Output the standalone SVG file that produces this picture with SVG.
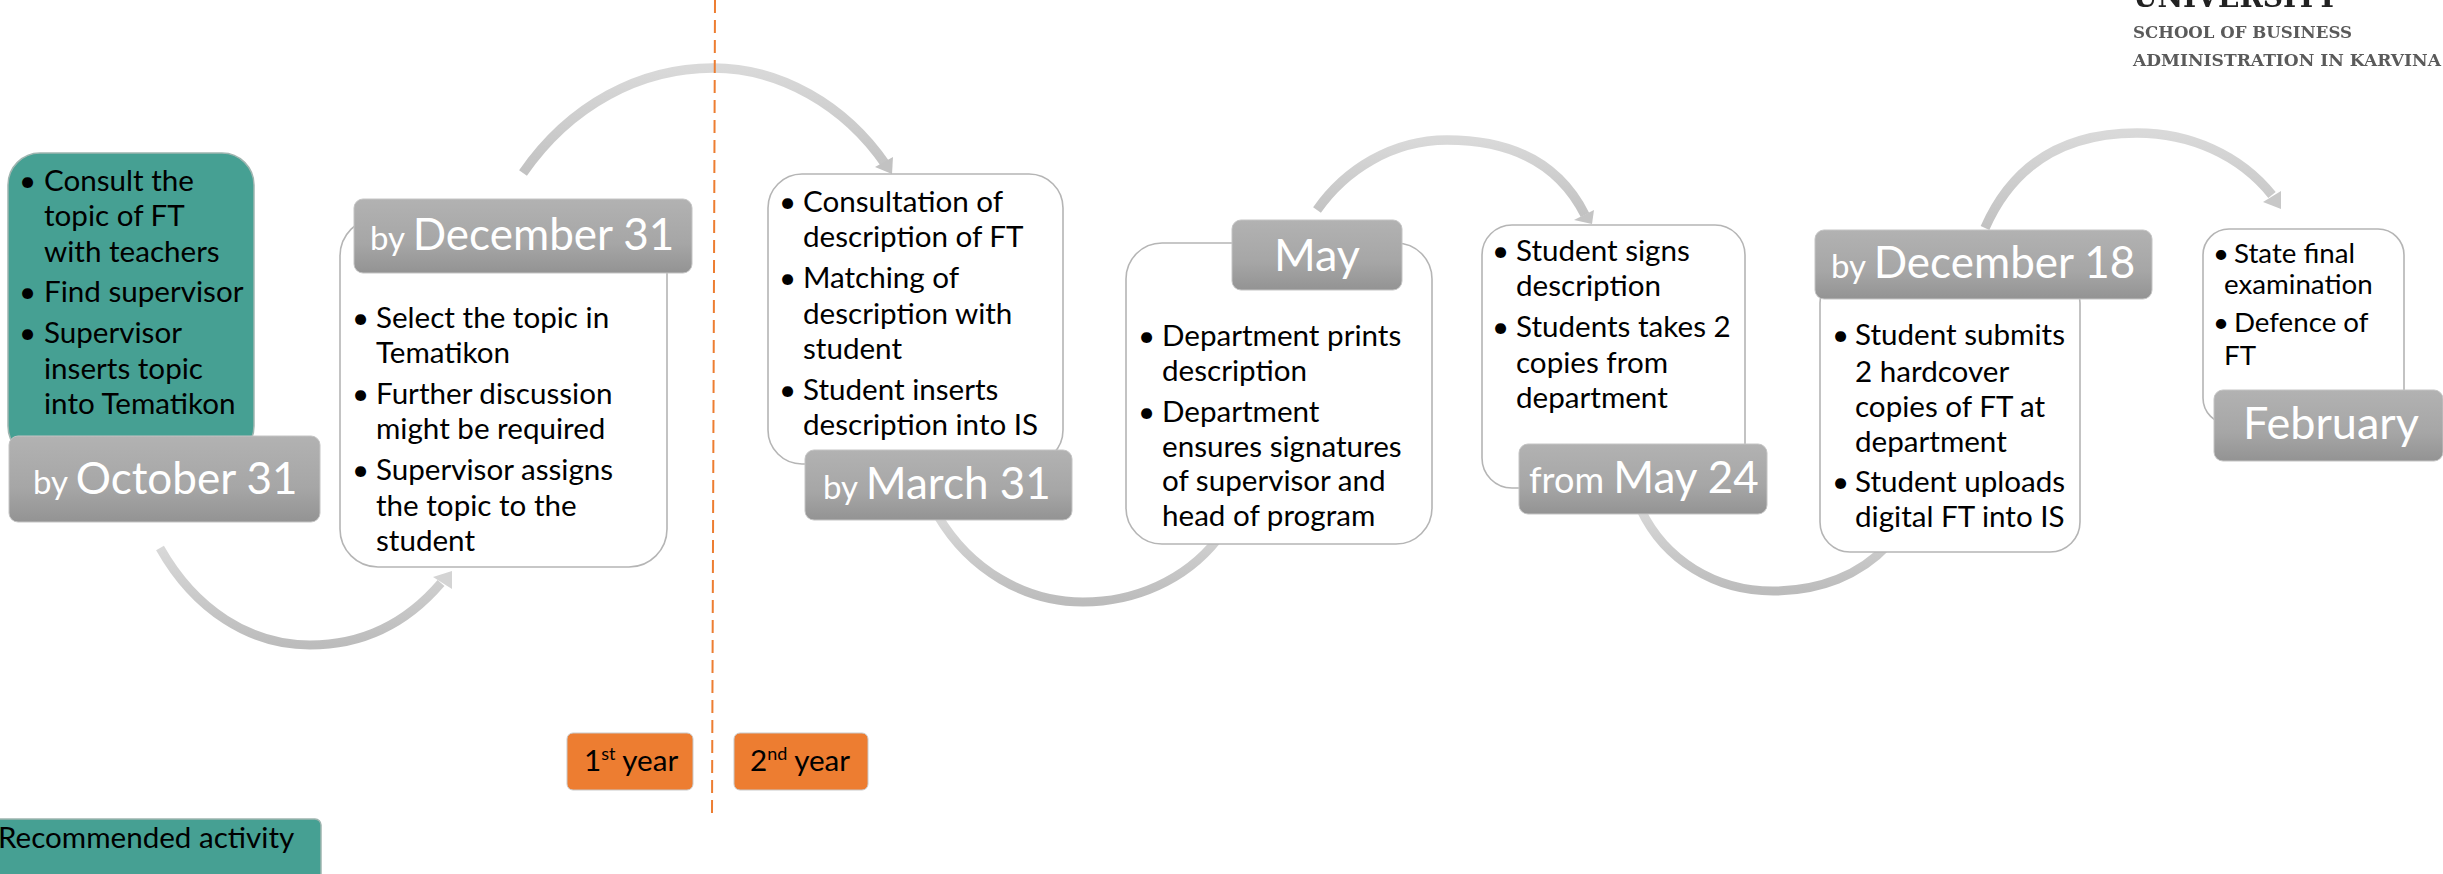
<svg xmlns="http://www.w3.org/2000/svg" width="2443" height="874" viewBox="0 0 2443 874">
<style>
text{font-family:Lato,"Open Sans","Liberation Sans",sans-serif}
.b{font-size:29.6px;fill:#000}
.s{font-size:27.7px;fill:#000}
.l{font-size:44px;fill:#fff}
.sm{font-size:33px}
.fr{font-size:36px}
.box{fill:#fff;stroke:#b5b5b5;stroke-width:1.6}
.lab{fill:url(#g);stroke:#c4c4c4;stroke-width:1}
.low{fill:none;stroke:url(#a);stroke-width:9}
.up{fill:none;stroke:url(#u);stroke-width:9.5}
.org{fill:#ed7d31;stroke:#c9c9c9;stroke-width:1}
.teal{fill:#46a093;stroke:#9fb5b0;stroke-width:1.5}
.logo{font-family:"DejaVu Serif",serif;font-weight:bold;fill:#5a5a5a;font-size:17px}
</style>
<defs>
<linearGradient id="g" x1="0" y1="0" x2="0" y2="1"><stop offset="0" stop-color="#b2b2b2"/><stop offset=".6" stop-color="#a6a6a6"/><stop offset="1" stop-color="#939393"/></linearGradient>
<linearGradient id="a" x1="0" y1="0" x2="0" y2="1"><stop offset="0" stop-color="#d8d8d8"/><stop offset="1" stop-color="#bcbcbc"/></linearGradient>
<linearGradient id="u" x1="0" y1="0" x2="0" y2="1"><stop offset="0" stop-color="#d9d9d9"/><stop offset="1" stop-color="#c2c2c2"/></linearGradient>
<filter id="bl"><feGaussianBlur stdDeviation="0.7"/></filter>
</defs>
<g id="connectors">
<path class="low" d="M160 548C195 610 250 645 310 645C360 645 405 625 441 583"/><path d="M433 577L452 571L452 589Z" fill="#d4d4d4"/>
<path class="up" d="M523 173C570 105 640 68 713 68C780 68 845 105 886 165"/><path d="M893 157L892 174L875 167Z" fill="#c2c2c2"/>
<path class="low" d="M938 516C970 570 1025 602 1083 602C1135 602 1185 580 1217 540"/>
<path class="up" d="M1317 210C1345 170 1392 140 1447 140C1515 140 1560 165 1585 215"/><path d="M1594 210L1592 224L1574 220Z" fill="#c4c4c4"/>
<path class="low" d="M1641 510C1665 560 1715 591 1773 591C1820 591 1860 575 1888 545"/>
<path class="up" d="M1985 228C2015 160 2070 133 2137 133C2190 133 2240 155 2272 195"/><path d="M2281 191L2281 209L2263 202Z" fill="#c8c8c8"/>
</g>
<path id="divider" d="M715 0L712 815" fill="none" stroke="#ed7d31" stroke-width="2" stroke-dasharray="13 7"/>
<g id="oct-activity"><rect class="teal" x="8" y="153" width="246" height="305" rx="32"/>
<text class="b" x="19" y="191">•</text><text class="b" x="44" y="191">Consult the</text><text class="b" x="44" y="226">topic of FT</text><text class="b" x="44" y="262">with teachers</text>
<text class="b" x="19" y="302">•</text><text class="b" x="44" y="302">Find supervisor</text>
<text class="b" x="19" y="343">•</text><text class="b" x="44" y="343">Supervisor</text><text class="b" x="44" y="379">inserts topic</text><text class="b" x="44" y="414">into Tematikon</text></g>
<g id="oct-label"><rect class="lab" x="9" y="436" width="311" height="86" rx="9"/><text class="l" x="33" y="494"><tspan class="sm">by </tspan>October 31</text></g>
<g id="dec-activity"><rect class="box" x="340" y="218" width="327" height="349" rx="38"/>
<text class="b" x="352" y="328">•</text><text class="b" x="376" y="328">Select the topic in</text><text class="b" x="376" y="363">Tematikon</text>
<text class="b" x="352" y="404">•</text><text class="b" x="376" y="404">Further discussion</text><text class="b" x="376" y="439">might be required</text>
<text class="b" x="352" y="480">•</text><text class="b" x="376" y="480">Supervisor assigns</text><text class="b" x="376" y="516">the topic to the</text><text class="b" x="376" y="551">student</text></g>
<g id="dec-label"><rect class="lab" x="354" y="199" width="338" height="74" rx="9"/><text class="l" x="370" y="250"><tspan class="sm">by </tspan>December 31</text></g>
<g id="mar-activity"><rect class="box" x="768" y="174" width="295" height="290" rx="34"/>
<text class="b" x="779" y="212">•</text><text class="b" x="803" y="212">Consultation of</text><text class="b" x="803" y="247">description of FT</text>
<text class="b" x="779" y="288">•</text><text class="b" x="803" y="288">Matching of</text><text class="b" x="803" y="324">description with</text><text class="b" x="803" y="359">student</text>
<text class="b" x="779" y="400">•</text><text class="b" x="803" y="400">Student inserts</text><text class="b" x="803" y="435">description into IS</text></g>
<g id="mar-label"><rect class="lab" x="805" y="450" width="267" height="70" rx="9"/><text class="l" x="823" y="499"><tspan class="sm">by </tspan>March 31</text></g>
<g id="may-activity"><rect class="box" x="1126" y="243" width="306" height="301" rx="36"/>
<text class="b" x="1138" y="346">•</text><text class="b" x="1162" y="346">Department prints</text><text class="b" x="1162" y="381">description</text>
<text class="b" x="1138" y="422">•</text><text class="b" x="1162" y="422">Department</text><text class="b" x="1162" y="457">ensures signatures</text><text class="b" x="1162" y="491">of supervisor and</text><text class="b" x="1162" y="526">head of program</text></g>
<g id="may-label"><rect class="lab" x="1232" y="220" width="170" height="70" rx="9"/><text class="l" x="1317" y="271" text-anchor="middle" style="font-size:45px">May</text></g>
<g id="sign-activity"><rect class="box" x="1482" y="225" width="263" height="263" rx="30"/>
<text class="b" x="1492" y="261">•</text><text class="b" x="1516" y="261">Student signs</text><text class="b" x="1516" y="296">description</text>
<text class="b" x="1492" y="337">•</text><text class="b" x="1516" y="337">Students takes 2</text><text class="b" x="1516" y="373">copies from</text><text class="b" x="1516" y="408">department</text></g>
<g id="may24-label"><rect class="lab" x="1519" y="444" width="248" height="70" rx="9"/><text class="l" x="1529" y="493"><tspan class="fr">from </tspan>May 24</text></g>
<g id="submit-activity"><rect class="box" x="1820" y="273" width="260" height="279" rx="30"/>
<text class="b" x="1832" y="345">•</text><text class="b" x="1855" y="345">Student submits</text><text class="b" x="1855" y="382">2 hardcover</text><text class="b" x="1855" y="417">copies of FT at</text><text class="b" x="1855" y="452">department</text>
<text class="b" x="1832" y="492">•</text><text class="b" x="1855" y="492">Student uploads</text><text class="b" x="1855" y="527">digital FT into IS</text></g>
<g id="dec18-label"><rect class="lab" x="1815" y="230" width="337" height="69" rx="9"/><text class="l" x="1831" y="278"><tspan class="sm">by </tspan>December 18</text></g>
<g id="state-activity"><rect class="box" x="2203" y="229" width="201" height="195" rx="26"/>
<text class="s" x="2213" y="263">•</text><text class="s" x="2234" y="263">State final</text><text class="s" x="2224" y="294">examination</text>
<text class="s" x="2213" y="332">•</text><text class="s" x="2234" y="332">Defence of</text><text class="s" x="2224" y="365">FT</text></g>
<g id="feb-label"><rect class="lab" x="2214" y="390" width="229" height="71" rx="9"/><text class="l" x="2243" y="439" style="font-size:45px">February</text></g>
<g id="year1"><rect class="org" x="567" y="733" width="126" height="57" rx="6"/><text class="b" x="584" y="771">1<tspan font-size="18" dy="-11">st</tspan><tspan dy="11"> year</tspan></text></g>
<g id="year2"><rect class="org" x="734" y="733" width="134" height="57" rx="6"/><text class="b" x="750" y="771">2<tspan font-size="18" dy="-11">nd</tspan><tspan dy="11"> year</tspan></text></g>
<g id="legend"><rect class="teal" x="-6" y="819" width="327" height="70" rx="6"/><text class="b" x="-2" y="848">Recommended activity</text></g>
<g id="logo" filter="url(#bl)"><text class="logo" x="2133" y="7" style="font-size:30px;fill:#222" textLength="204" lengthAdjust="spacingAndGlyphs">UNIVERSITY</text>
<text class="logo" x="2133" y="38" textLength="219" lengthAdjust="spacingAndGlyphs">SCHOOL OF BUSINESS</text>
<text class="logo" x="2133" y="66" textLength="308" lengthAdjust="spacingAndGlyphs">ADMINISTRATION IN KARVINA</text></g>
</svg>
